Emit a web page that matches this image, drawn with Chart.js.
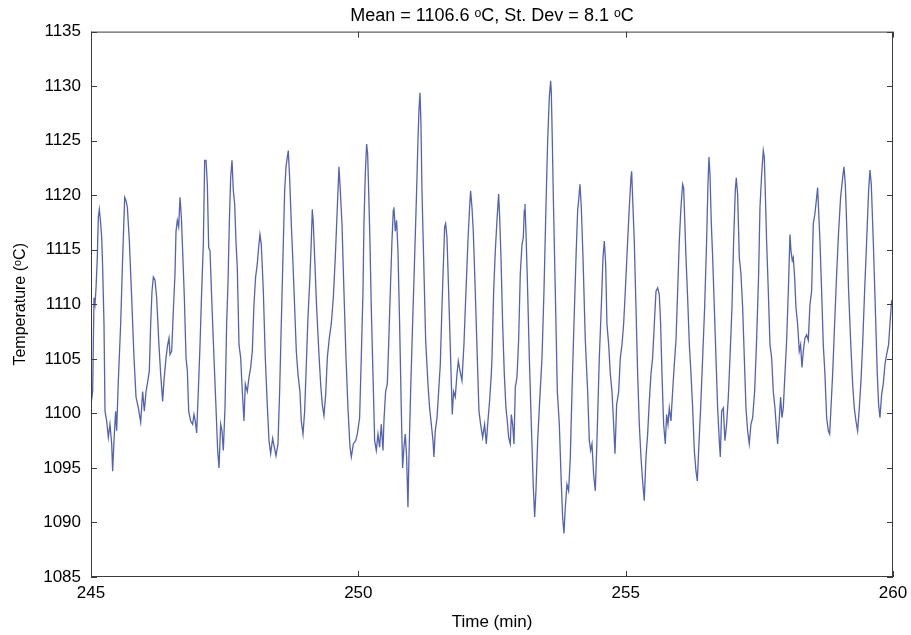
<!DOCTYPE html>
<html>
<head>
<meta charset="utf-8">
<script src="https://cdn.jsdelivr.net/npm/chart.js@4.4.0/dist/chart.umd.min.js"></script>
<style>
  html, body { margin: 0; padding: 0; background: #fff; }
  #wrap { position: relative; width: 911px; height: 635px; }
</style>
</head>
<body>
<div id="wrap"><canvas id="chart"></canvas></div>
<script>
// time axis (min)
const timeMin = [
  245.000, 245.031, 245.056, 245.075, 245.094, 245.118, 245.137, 245.156, 245.181, 245.200,
  245.218, 245.243, 245.262, 245.293, 245.324, 245.355, 245.387, 245.405, 245.430, 245.461,
  245.480, 245.511, 245.555, 245.592, 245.630, 245.655, 245.680, 245.717, 245.761, 245.804,
  245.842, 245.885, 245.929, 245.966, 245.997, 246.029, 246.054, 246.091, 246.116, 246.141,
  246.166, 246.197, 246.228, 246.266, 246.303, 246.340, 246.365, 246.403, 246.434, 246.459,
  246.478, 246.509, 246.540, 246.571, 246.590, 246.615, 246.640, 246.665, 246.690, 246.714,
  246.746, 246.777, 246.802, 246.827, 246.864, 246.901, 246.926, 246.951, 246.976, 247.007,
  247.039, 247.070, 247.101, 247.126, 247.151, 247.176, 247.201, 247.226, 247.257, 247.300,
  247.338, 247.369, 247.394, 247.425, 247.450, 247.475,
  247.506, 247.537, 247.562, 247.587, 247.612, 247.637, 247.662, 247.687, 247.711, 247.736,
  247.768, 247.799, 247.830, 247.861, 247.886, 247.923, 247.955, 247.986, 248.017, 248.048,
  248.079, 248.110, 248.135, 248.160, 248.185, 248.223, 248.260, 248.297, 248.329, 248.360,
  248.397, 248.428, 248.460, 248.497, 248.528, 248.559, 248.590, 248.622, 248.647, 248.672,
  248.690, 248.715, 248.746, 248.778, 248.809, 248.840, 248.871, 248.908, 248.933, 248.965,
  248.996, 249.027, 249.058, 249.095, 249.120, 249.139, 249.158, 249.183, 249.220, 249.264,
  249.295, 249.326, 249.357, 249.389, 249.420, 249.457, 249.494, 249.532, 249.569, 249.607,
  249.638, 249.663, 249.694, 249.731, 249.769, 249.806, 249.844, 249.869, 249.906, 249.950,
  249.981,
  250.024, 250.055, 250.087, 250.105, 250.130, 250.155, 250.174, 250.193, 250.217, 250.242,
  250.274, 250.305, 250.336, 250.367, 250.398, 250.429, 250.461, 250.479, 250.510, 250.542,
  250.567, 250.598, 250.629, 250.654, 250.666, 250.691, 250.716, 250.741, 250.772, 250.803,
  250.828, 250.853, 250.878, 250.903, 250.928, 250.947, 250.978, 251.015, 251.053, 251.090,
  251.115, 251.134, 251.153, 251.171, 251.190, 251.221, 251.259, 251.302, 251.333, 251.365,
  251.396, 251.414, 251.439, 251.471, 251.502, 251.533, 251.564, 251.595, 251.614, 251.633,
  251.658, 251.689, 251.726, 251.757, 251.782, 251.813, 251.845, 251.870, 251.901, 251.938,
  251.975, 252.013, 252.050, 252.081, 252.100, 252.125, 252.150, 252.187, 252.225, 252.256,
  252.287, 252.325, 252.362, 252.393, 252.424, 252.456, 252.487,
  252.500, 252.531, 252.562, 252.593, 252.612, 252.624, 252.643, 252.668, 252.699, 252.730,
  252.761, 252.786, 252.811, 252.842, 252.861, 252.886, 252.911, 252.936, 252.967, 252.998,
  253.029, 253.061, 253.085, 253.104, 253.117, 253.135, 253.160, 253.198, 253.235, 253.273,
  253.298, 253.322, 253.354, 253.391, 253.435, 253.472, 253.509, 253.541, 253.572, 253.597,
  253.609, 253.628, 253.647, 253.684, 253.722, 253.759, 253.790, 253.821, 253.846, 253.871,
  253.902, 253.933, 253.965, 253.996, 254.033, 254.071, 254.102, 254.120, 254.145, 254.170,
  254.202, 254.245, 254.289, 254.320, 254.345, 254.370, 254.401, 254.432, 254.463, 254.507,
  254.544, 254.576, 254.601, 254.626, 254.650, 254.682, 254.713, 254.744, 254.775, 254.800,
  254.831, 254.869, 254.900, 254.931, 254.962, 254.993,
  255.037, 255.068, 255.099, 255.112, 255.130, 255.161, 255.193, 255.224, 255.255, 255.286,
  255.317, 255.348, 255.380, 255.411, 255.442, 255.473, 255.504, 255.536, 255.567, 255.598,
  255.629, 255.654, 255.679, 255.710, 255.741, 255.766, 255.791, 255.816, 255.847, 255.878,
  255.910, 255.941, 255.972, 256.003, 256.034, 256.065, 256.084, 256.103, 256.128, 256.159,
  256.191, 256.222, 256.253, 256.284, 256.315, 256.340, 256.365, 256.402, 256.440, 256.477,
  256.514, 256.539, 256.558, 256.577, 256.602, 256.627, 256.658, 256.689, 256.720, 256.751,
  256.770, 256.795, 256.826, 256.857, 256.888, 256.920, 256.951, 256.988, 257.019, 257.050,
  257.069, 257.094, 257.125, 257.156, 257.188, 257.219, 257.250, 257.281, 257.312, 257.343,
  257.375, 257.412, 257.449, 257.487,
  257.512, 257.543, 257.574, 257.593, 257.611, 257.636, 257.668, 257.699, 257.730, 257.761,
  257.792, 257.823, 257.842, 257.867, 257.898, 257.923, 257.948, 257.979, 258.011, 258.042,
  258.073, 258.092, 258.116, 258.135, 258.160, 258.185, 258.216, 258.247, 258.272, 258.297,
  258.322, 258.353, 258.384, 258.416, 258.447, 258.478, 258.509, 258.540, 258.572, 258.590,
  258.609, 258.634, 258.665, 258.696, 258.727, 258.759, 258.790, 258.815, 258.840, 258.871,
  258.908, 258.946, 258.983, 259.020, 259.058, 259.083, 259.108, 259.133, 259.170, 259.207,
  259.245, 259.276, 259.307, 259.338, 259.370, 259.401, 259.432, 259.469, 259.507, 259.544,
  259.569, 259.594, 259.631, 259.669, 259.706, 259.731, 259.756, 259.787, 259.818, 259.850,
  259.881, 259.918, 259.943, 259.974, 260.000
];

// temperature (°C), one value per time above
const tempC = [
  1100.8, 1102.0, 1110.6, 1110.0, 1111.5, 1114.3, 1118.0, 1118.7, 1117.4, 1116.1,
  1113.4, 1108.2, 1100.2, 1099.3, 1097.8, 1099.0, 1097.2, 1094.7, 1097.5, 1100.2,
  1098.4, 1103.0, 1108.2, 1114.3, 1119.8, 1119.5, 1118.9, 1115.8, 1110.6, 1105.1,
  1101.5, 1100.5, 1099.2, 1102.0, 1100.2, 1102.0, 1102.7, 1103.9, 1108.2, 1111.2,
  1112.5, 1112.2, 1110.6, 1106.7, 1103.6, 1101.1, 1103.0, 1105.1, 1106.3, 1106.9,
  1105.4, 1105.7, 1109.4, 1112.8, 1116.7, 1117.7, 1117.1, 1119.8, 1118.0, 1114.9,
  1110.6, 1105.1, 1103.9, 1100.2, 1099.3, 1099.0, 1099.9, 1099.3, 1098.2, 1102.0,
  1106.3, 1111.2, 1115.5, 1123.2, 1123.2, 1121.0, 1115.2, 1114.9, 1110.6, 1105.1,
  1100.5, 1096.6, 1095.0, 1099.0, 1098.4, 1096.6,
  1100.5, 1108.2, 1111.9, 1117.4, 1121.6, 1123.2, 1120.4, 1119.2, 1115.8, 1113.4,
  1106.3, 1105.1, 1102.0, 1099.3, 1102.7, 1102.0, 1103.3, 1104.2, 1105.7, 1110.0,
  1112.5, 1113.7, 1115.2, 1116.4, 1115.5, 1111.2, 1105.1, 1100.8, 1097.5, 1096.3,
  1097.7, 1096.9, 1096.1, 1097.2, 1102.0, 1108.2, 1114.3, 1120.4, 1122.6, 1123.5,
  1124.1, 1121.6, 1117.4, 1113.7, 1109.7, 1105.7, 1103.6, 1102.0, 1099.3, 1098.1,
  1100.2, 1104.5, 1108.8, 1112.5, 1115.8, 1118.7, 1117.4, 1114.3, 1109.7, 1105.4,
  1102.7, 1100.8, 1099.8, 1101.7, 1105.1, 1106.9, 1108.2, 1110.6, 1114.3, 1118.9,
  1122.6, 1120.4, 1117.4, 1111.2, 1105.1, 1100.5, 1096.9, 1096.0, 1097.2, 1097.5,
  1098.1,
  1099.6, 1105.1, 1111.2, 1117.4, 1121.9, 1124.7, 1123.8, 1120.4, 1115.8, 1109.7,
  1103.6, 1097.5, 1096.6, 1098.1, 1096.9, 1099.0, 1096.6, 1099.3, 1102.0, 1102.7,
  1106.3, 1111.2, 1115.8, 1118.6, 1118.9, 1116.7, 1117.7, 1114.9, 1108.2, 1100.5,
  1095.0, 1096.9, 1098.1, 1096.0, 1091.4, 1096.0, 1102.0, 1108.2, 1114.3, 1120.4,
  1125.0, 1127.8, 1129.4, 1126.6, 1120.4, 1114.3, 1106.7, 1102.7, 1100.5, 1099.0,
  1097.5, 1096.0, 1098.4, 1099.6, 1102.0, 1104.5, 1109.7, 1114.3, 1117.1, 1117.4,
  1116.1, 1111.2, 1105.1, 1099.9, 1102.0, 1101.5, 1103.6, 1104.8, 1103.9, 1103.0,
  1106.3, 1111.2, 1115.8, 1118.9, 1120.4, 1118.9, 1116.7, 1111.2, 1105.1, 1100.2,
  1099.0, 1097.8, 1099.0, 1097.2, 1099.3, 1101.2, 1103.6,
  1105.1, 1111.2, 1114.9, 1117.7, 1119.2, 1120.1, 1118.0, 1114.3, 1108.2, 1103.6,
  1100.5, 1099.3, 1097.8, 1097.2, 1099.9, 1099.0, 1097.2, 1102.4, 1103.3, 1106.7,
  1112.8, 1115.5, 1116.1, 1118.6, 1119.2, 1116.7, 1112.5, 1105.1, 1099.0, 1093.2,
  1090.5, 1092.9, 1097.5, 1101.1, 1105.1, 1111.2, 1118.9, 1125.0, 1129.0, 1130.5,
  1129.5, 1125.0, 1119.8, 1111.2, 1102.0, 1099.0, 1094.4, 1090.5, 1089.0, 1091.4,
  1093.5, 1092.9, 1096.0, 1102.0, 1108.2, 1114.3, 1118.6, 1119.5, 1121.0, 1118.9,
  1114.3, 1106.7, 1102.0, 1097.5, 1096.6, 1097.2, 1094.4, 1092.9, 1097.5, 1105.1,
  1109.7, 1114.3, 1115.8, 1113.7, 1108.2, 1106.3, 1103.6, 1102.0, 1099.0, 1096.3,
  1100.8, 1102.0, 1105.1, 1106.3, 1108.2, 1111.2,
  1115.8, 1118.9, 1121.6, 1122.2, 1119.8, 1115.8, 1109.7, 1103.6, 1099.0, 1096.0,
  1093.8, 1092.0, 1096.0, 1098.1, 1101.1, 1103.6, 1105.1, 1108.2, 1111.2, 1111.5,
  1110.9, 1108.2, 1103.6, 1099.0, 1097.2, 1099.9, 1099.0, 1100.5, 1099.3, 1102.0,
  1104.5, 1106.7, 1111.2, 1115.8, 1118.9, 1121.0, 1120.7, 1118.0, 1114.3, 1110.6,
  1106.3, 1103.6, 1100.5, 1096.6, 1094.7, 1093.8, 1096.6, 1100.5, 1105.1, 1109.7,
  1115.8, 1121.0, 1123.5, 1121.9, 1117.4, 1114.3, 1109.7, 1105.1, 1100.5, 1097.5,
  1096.0, 1100.2, 1100.5, 1097.5, 1099.0, 1101.5, 1105.1, 1109.7, 1115.8, 1120.4,
  1121.6, 1120.1, 1114.3, 1112.8, 1109.7, 1105.1, 1100.5, 1098.4, 1097.2, 1099.0,
  1099.6, 1102.0, 1106.7, 1112.8,
  1118.9, 1121.9, 1124.1, 1123.5, 1120.4, 1115.8, 1111.2, 1106.3, 1105.1, 1102.0,
  1100.5, 1098.4, 1097.2, 1099.0, 1101.5, 1099.6, 1100.5, 1103.6, 1106.7, 1111.2,
  1116.4, 1114.9, 1114.0, 1114.3, 1112.5, 1109.7, 1108.2, 1105.7, 1106.3, 1104.2,
  1105.7, 1106.9, 1107.2, 1106.7, 1110.0, 1111.2, 1117.4, 1118.3, 1119.8, 1120.7,
  1118.6, 1115.8, 1111.2, 1106.3, 1103.6, 1099.6, 1098.4, 1098.1, 1100.5, 1103.6,
  1108.2, 1112.8, 1116.7, 1119.8, 1121.6, 1122.6, 1121.0, 1117.4, 1111.2, 1106.7,
  1102.7, 1100.5, 1099.3, 1098.4, 1100.5, 1103.0, 1106.3, 1111.2, 1115.8, 1120.4,
  1122.3, 1121.0, 1115.8, 1109.7, 1103.6, 1100.8, 1099.6, 1101.7, 1102.7, 1104.5,
  1105.4, 1106.3, 1108.2, 1110.3, 1110.5
];

const xTicks = [245, 250, 255, 260];
const yTicks = [1085, 1090, 1095, 1100, 1105, 1110, 1115, 1120, 1125, 1130, 1135];

const titleText = 'Mean = 1106.6 \u1D52C, St. Dev = 8.1 \u1D52C';
const xLabel = 'Time (min)';
const yLabel = 'Temperature (\u1D52C)';

const FONT = '"Liberation Sans", Arial, Helvetica, sans-serif';
const AXIS_COLOR = '#3c3c3c';

// MATLAB-style box with ticks pointing inwards on all four sides
const boxPlugin = {
  id: 'boxPlugin',
  afterDraw(chart) {
    const { ctx, chartArea: a, scales } = chart;
    ctx.save();
    ctx.strokeStyle = AXIS_COLOR;
    ctx.lineWidth = 1;
    ctx.strokeRect(a.left + 0.5, a.top + 0.5, a.right - a.left - 1, a.bottom - a.top - 1);
    const len = 6;
    ctx.beginPath();
    yTicks.forEach(v => {
      const y = Math.round(scales.y.getPixelForValue(v)) + 0.5;
      ctx.moveTo(a.left, y); ctx.lineTo(a.left + len, y);
      ctx.moveTo(a.right, y); ctx.lineTo(a.right - len, y);
    });
    xTicks.forEach(v => {
      const x = Math.round(scales.x.getPixelForValue(v)) + 0.5;
      ctx.moveTo(x, a.bottom); ctx.lineTo(x, a.bottom - len);
      ctx.moveTo(x, a.top); ctx.lineTo(x, a.top + len);
    });
    ctx.stroke();
    ctx.restore();
  }
};

const ctx = document.getElementById('chart').getContext('2d');
new Chart(ctx, {
  type: 'line',
  data: {
    datasets: [{
      data: timeMin.map((t, i) => ({ x: t, y: tempC[i] })),
      borderColor: '#5462b2',
      borderWidth: 1.3,
      pointRadius: 0,
      tension: 0,
      fill: false
    }]
  },
  options: {
    responsive: true,
    maintainAspectRatio: false,
    animation: false,
    layout: { padding: { left: 0, right: 0, top: 0, bottom: 0 } },
    plugins: {
      legend: { display: false },
      tooltip: { enabled: false },
      title: {
        display: true,
        fullSize: false,
        text: titleText,
        color: '#000',
        font: { family: FONT, size: 18, weight: 'normal' },
        padding: { top: 5, bottom: 5 }
      }
    },
    scales: {
      x: {
        type: 'linear',
        min: 245,
        max: 260,
        afterBuildTicks: s => { s.ticks = xTicks.map(v => ({ value: v })); },
        afterFit: s => { s.height = 58; s.paddingRight = 18; s.paddingLeft = 0; },
        grid: { display: false, drawTicks: false },
        border: { display: false },
        ticks: { color: '#000', padding: 6, maxRotation: 0, font: { family: FONT, size: 17 },
                 callback: v => String(v) },
        title: {
          display: true,
          text: xLabel,
          color: '#000',
          font: { family: FONT, size: 17 },
          padding: { top: 0, bottom: 2 }
        }
      },
      y: {
        min: 1085,
        max: 1135,
        afterBuildTicks: s => { s.ticks = yTicks.map(v => ({ value: v })); },
        afterFit: s => { s.width = 91; },
        grid: { display: false, drawTicks: false },
        border: { display: false },
        ticks: { color: '#000', padding: 10, font: { family: FONT, size: 17 },
                 callback: v => String(v) },
        title: {
          display: true,
          text: yLabel,
          color: '#000',
          font: { family: FONT, size: 16 },
          padding: { top: 11, bottom: 0 }
        }
      }
    }
  },
  plugins: [boxPlugin]
});
</script>
</body>
</html>
